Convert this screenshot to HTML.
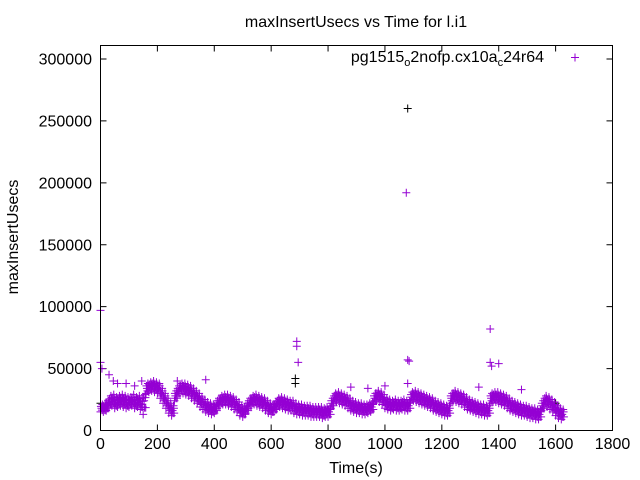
<!DOCTYPE html>
<html><head><meta charset="utf-8"><style>
html,body{margin:0;padding:0;background:#fff}
svg{display:block;font-family:"Liberation Sans",sans-serif}
</style></head><body>
<svg id="chart" width="640" height="480" viewBox="0 0 640 480">
<text x="356" y="27" font-size="16" text-anchor="middle">maxInsertUsecs vs Time for l.i1</text>
<text x="18" y="237" font-size="16" text-anchor="middle" transform="rotate(-90 18 237)">maxInsertUsecs</text>
<text x="356" y="473" font-size="16" text-anchor="middle">Time(s)</text>
<g id="axes"></g>
<g id="marks"></g>
<g>
<text x="544" y="62" font-size="16" text-anchor="end">pg1515<tspan font-size="11" dy="4">o</tspan><tspan dy="-4">2nofp.cx10a</tspan><tspan font-size="11" dy="4">c</tspan><tspan dy="-4">24r64</tspan></text>
<path d="M571 57.5h8M575 53.5v8" stroke="#9400d3" stroke-width="1"/>
</g>
<rect x="100.5" y="45.5" width="512" height="385" fill="none" stroke="#000" stroke-width="1"/>
</svg>
<script>
const xTicks=[0,200,400,600,800,1000,1200,1400,1600,1800];
const yTicks=[0,50000,100000,150000,200000,250000,300000];
const baseK=[18,18,20,23,24,22,23,24,23,22,23,24,22,23,21,24,34,35,36,35,34,30,26,22,18,16,28,32,34,34,33,32,30,28,26,23,21,19,18,17,18,22,24,25,25,24,23,21,19,16,15,18,22,24,25,24,23,22,20,18,17,19,22,23,22,21,20,20,18,17,17,16,16,16,15,15,15,15,14,15,15,22,26,27,26,25,24,22,20,19,18,18,17,17,18,19,26,28,27,25,22,21,20,21,20,20,21,20,20,27,28,27,26,25,24,23,22,20,19,18,17,16,16,26,28,27,26,25,23,21,20,19,18,17,17,16,16,26,27,27,26,25,24,22,20,19,18,17,16,16,15,14,14,13,13,20,24,23,21,19,16,14,13];
const upperK=[21,22,24,28,29,27,28,29,28,27,27,29,27,28,26,29,38,39,40,39,38,34,30,26,22,20,32,36,38,38,37,36,34,32,30,27,25,23,22,21,22,26,28,29,29,28,27,25,23,20,19,22,26,28,29,28,27,26,24,22,21,23,26,27,26,25,24,24,22,21,21,20,20,20,19,19,19,19,18,19,19,26,30,31,30,29,28,26,24,23,22,22,21,21,22,23,30,32,31,29,26,25,24,25,24,24,25,24,24,31,32,31,30,29,28,27,26,24,23,22,21,20,20,30,32,31,30,29,27,25,24,23,22,21,21,20,20,30,31,31,30,29,28,26,24,23,22,21,20,20,19,18,18,17,17,24,28,27,25,23,20,18,17];
const lowerK=[15,15,16,19,20,18,19,20,19,18,19,20,18,19,17,13,30,31,32,31,30,26,22,18,14,12,24,28,30,30,29,28,26,24,22,19,17,15,14,13,14,18,20,21,21,20,19,17,15,12,11,14,18,20,21,20,19,18,16,14,13,15,18,19,18,17,16,16,14,13,13,12,12,12,11,11,11,11,10,11,11,18,22,23,22,21,20,18,16,15,14,14,13,13,14,15,22,24,23,21,18,17,16,17,16,16,17,16,16,23,24,23,22,21,20,19,18,16,15,14,13,12,12,22,24,23,22,21,19,17,16,15,14,13,13,12,12,22,23,23,22,21,20,18,16,15,14,13,12,12,11,10,10,9,9,16,20,19,17,15,12,10,9];
const outT=[0,0,5,30,45,60,90,120,145,270,370,690,690,695,880,940,1000,1075,1080,1085,1080,1370,1370,1375,1400,1330,1480];
const outV=[97000,55000,50000,45000,40000,38000,38000,36000,40000,40000,41000,72000,68000,55000,35000,34000,36000,192000,57000,56000,38000,82000,55000,52000,54000,35000,33000];
const blackT=[1080,685,685,0,1600];
const blackV=[260000,42000,38000,22000,22000];
const X=t=>100.5+t*512/1800;
const NS="http://www.w3.org/2000/svg";
const axes=document.getElementById('axes'), marks=document.getElementById('marks');
function Ysc(v){return 430.5-v*(371.5/300000);}
let d="";
xTicks.forEach(t=>{const x=X(t);d+=`M${x} 430.5v-6M${x} 45.5v6`;
 const tx=document.createElementNS(NS,'text');tx.setAttribute('x',x);tx.setAttribute('y',449);tx.setAttribute('font-size','16');tx.setAttribute('text-anchor','middle');tx.textContent=t;
 
 
 axes.appendChild(tx);});
yTicks.forEach(v=>{const y=Ysc(v);d+=`M100.5 ${y}h6M612.5 ${y}h-6`;
 const tx=document.createElementNS(NS,'text');tx.setAttribute('x',92);tx.setAttribute('y',y+5.5);tx.setAttribute('font-size','16');tx.setAttribute('text-anchor','end');tx.textContent=v;
 
 
 axes.appendChild(tx);});
const tp=document.createElementNS(NS,'path');tp.setAttribute('d',d);tp.setAttribute('stroke','#000');


axes.appendChild(tp);
let pd="",bd="";
const plus=(t,v)=>{const x=X(t),y=Ysc(v);return `M${x-4} ${y}h8M${x} ${y-4}v8`;};
baseK.forEach((b,i)=>{const t=i*10;pd+=plus(t,lowerK[i]*1000)+plus(t+3.3,b*1000)+plus(t+6.6,upperK[i]*1000)+plus(t+5,(b+lowerK[i])*500)+plus(t+8,(b+upperK[i])*500)+plus(t+1.5,(b+upperK[i])*500)+plus(t+9,(b+lowerK[i])*500);});
outT.forEach((t,i)=>{pd+=plus(t,outV[i]);});
blackT.forEach((t,i)=>{bd+=plus(t,blackV[i]);});
const p1=document.createElementNS(NS,'path');p1.setAttribute('d',bd);p1.setAttribute('stroke','#000');


marks.appendChild(p1);
const p2=document.createElementNS(NS,'path');p2.setAttribute('d',pd);p2.setAttribute('stroke','#9400d3');


marks.appendChild(p2);
</script>
</body></html>
